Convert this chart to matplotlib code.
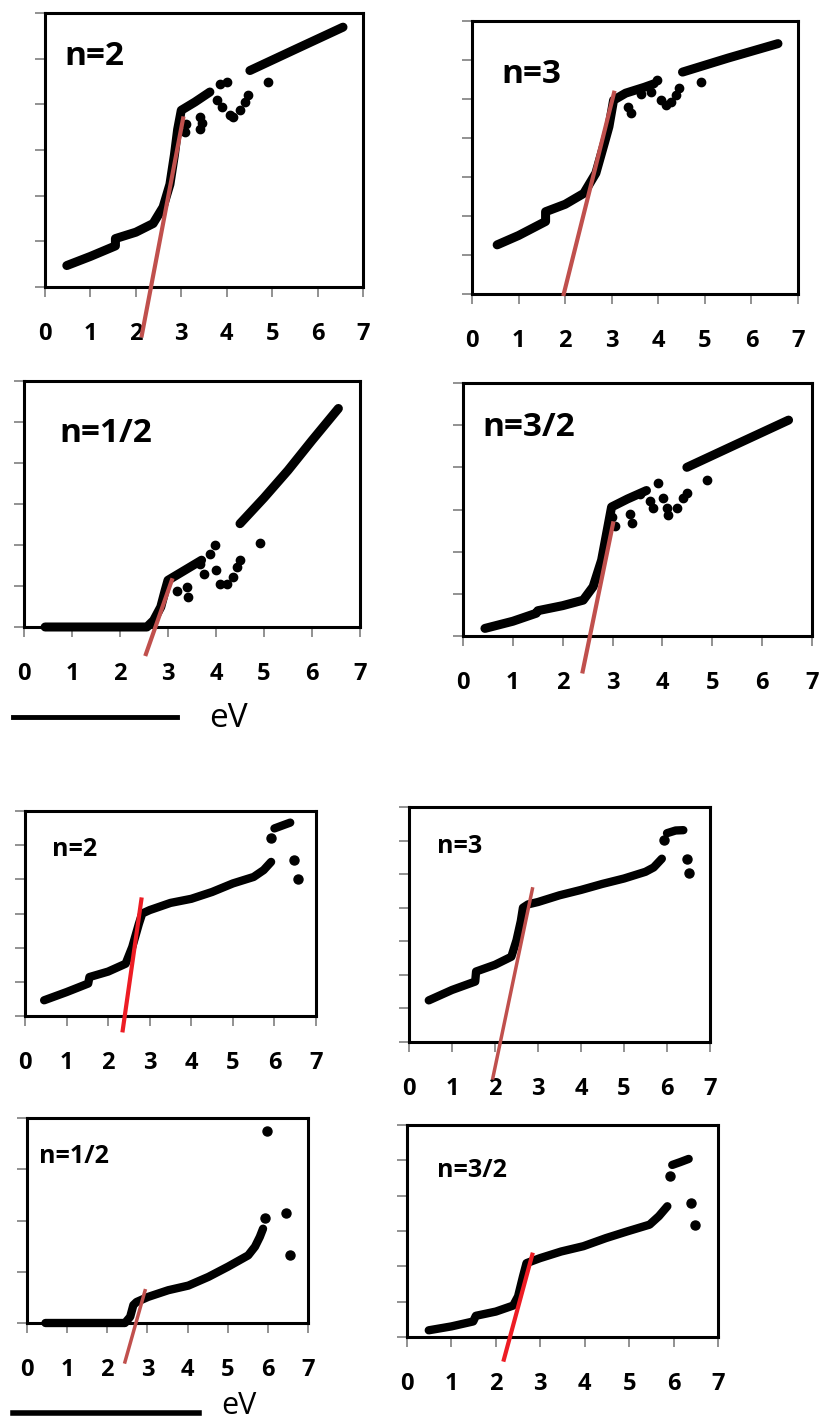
import matplotlib.pyplot as plt
from matplotlib.lines import Line2D

plt.rcParams['font.family'] = ['Open Sans', 'DejaVu Sans']

W, H = 830, 1425          # output size in pixels
xticks = [0, 1, 2, 3, 4, 5, 6, 7]
brown = '#C0504D'
red = '#ED1C24'

# ---- top set ---------------------------------------------------------------
# n=2
a2_x = [0.48, 1.0, 1.55, 1.55, 2.0, 2.38, 2.6, 2.75, 2.85, 2.92, 3.0, 3.3, 3.63]
a2_y = [0.47, 0.67, 0.9, 1.06, 1.2, 1.39, 1.75, 2.25, 2.9, 3.45, 3.87, 4.05, 4.27]
a2_up_x = [4.51, 5.5, 6.56]
a2_up_y = [4.74, 5.2, 5.69]
a2_dot_x = [3.08, 3.1, 3.41, 3.41, 3.45, 3.78, 3.85, 3.89, 4.0, 4.07, 4.14, 4.29, 4.4, 4.47, 4.91]
a2_dot_y = [3.4, 3.58, 3.47, 3.72, 3.6, 4.09, 4.45, 3.94, 4.49, 3.76, 3.72, 3.87, 4.05, 4.2, 4.49]
a2_fit_x = [2.13, 3.04]
a2_fit_y = [-1.06, 3.69]

# n=3
a3_x = [0.54, 1.0, 1.58, 1.58, 2.0, 2.4, 2.66, 2.84, 2.94, 3.04, 3.3, 3.7, 3.91]
a3_y = [1.26, 1.5, 1.86, 2.11, 2.3, 2.58, 3.1, 3.86, 4.29, 4.97, 5.15, 5.3, 5.39]
a3_up_x = [4.52, 5.5, 6.57]
a3_up_y = [5.69, 6.05, 6.42]
a3_dot_x = [3.34, 3.41, 3.63, 3.84, 3.98, 4.06, 4.16, 4.27, 4.38, 4.45, 4.92]
a3_dot_y = [4.8, 4.63, 5.14, 5.18, 5.48, 4.97, 4.84, 4.93, 5.1, 5.27, 5.44]
a3_fit_x = [1.97, 3.05]
a3_fit_y = [0.0, 5.16]

# n=1/2
a12_x = [0.44, 1.5, 2.56, 2.7, 2.85, 2.94, 3.0, 3.3, 3.7]
a12_y = [0.0, 0.0, 0.0, 0.16, 0.49, 0.89, 1.14, 1.35, 1.63]
a12_up_x = [4.5, 5.0, 5.5, 6.0, 6.55]
a12_up_y = [2.52, 3.15, 3.82, 4.55, 5.33]
a12_dot_x = [3.18, 3.39, 3.42, 3.67, 3.74, 3.88, 3.98, 4.01, 4.08, 4.22, 4.36, 4.43, 4.5, 4.92]
a12_dot_y = [0.89, 0.98, 0.73, 1.54, 1.3, 1.79, 1.99, 1.38, 1.06, 1.06, 1.22, 1.46, 1.63, 2.05]
a12_fit_x = [2.54, 3.08]
a12_fit_y = [-0.66, 1.14]

# n=3/2
a32_x = [0.44, 1.0, 1.47, 1.5, 2.0, 2.41, 2.61, 2.78, 2.88, 2.98, 3.3, 3.68]
a32_y = [0.18, 0.35, 0.54, 0.6, 0.72, 0.85, 1.17, 1.8, 2.43, 3.06, 3.25, 3.45]
a32_up_x = [4.49, 5.49, 6.53]
a32_up_y = [4.0, 4.55, 5.12]
a32_dot_x = [2.98, 3.05, 3.35, 3.38, 3.55, 3.75, 3.82, 3.92, 4.02, 4.09, 4.12, 4.29, 4.42, 4.49, 4.89]
a32_dot_y = [2.83, 2.6, 2.9, 2.67, 3.36, 3.2, 3.04, 3.63, 3.28, 3.04, 2.88, 3.04, 3.28, 3.39, 3.69]
a32_fit_x = [2.4, 3.01]
a32_fit_y = [-0.84, 2.67]

# ---- bottom set ------------------------------------------------------------
# n=2
b2_x = [0.46, 1.0, 1.52, 1.55, 2.0, 2.42, 2.58, 2.74, 2.82, 3.0, 3.5, 4.0, 4.5, 5.0, 5.5, 5.74, 5.92]
b2_y = [0.46, 0.7, 0.95, 1.14, 1.3, 1.53, 2.02, 2.7, 3.0, 3.1, 3.31, 3.43, 3.63, 3.88, 4.07, 4.27, 4.51]
b2_up_x = [6.0, 6.2, 6.38]
b2_up_y = [5.49, 5.58, 5.66]
b2_dot_x = [5.92, 6.46, 6.56]
b2_dot_y = [5.22, 4.56, 4.02]
b2_fit_x = [2.35, 2.8]
b2_fit_y = [-0.42, 3.41]

# n=3
b3_x = [0.46, 1.0, 1.54, 1.56, 2.0, 2.38, 2.5, 2.6, 2.65, 2.77, 3.0, 3.5, 4.0, 4.5, 5.0, 5.5, 5.69, 5.88]
b3_y = [1.24, 1.55, 1.8, 2.1, 2.3, 2.54, 3.03, 3.6, 4.0, 4.1, 4.17, 4.37, 4.53, 4.71, 4.87, 5.07, 5.2, 5.46]
b3_up_x = [6.0, 6.2, 6.38]
b3_up_y = [6.22, 6.3, 6.31]
b3_dot_x = [5.92, 6.46, 6.5]
b3_dot_y = [6.01, 5.45, 5.03]
b3_fit_x = [1.95, 2.87]
b3_fit_y = [-1.07, 4.56]

# n=1/2
b12_x = [0.46, 1.5, 2.44, 2.57, 2.65, 2.73, 3.02, 3.52, 4.02, 4.52, 5.01, 5.51, 5.68, 5.8, 5.88]
b12_y = [0.0, 0.0, 0.0, 0.12, 0.35, 0.41, 0.51, 0.64, 0.73, 0.9, 1.1, 1.32, 1.49, 1.68, 1.84]
b12_dot_x = [5.92, 5.97, 6.44, 6.55]
b12_dot_y = [2.05, 3.74, 2.15, 1.32]
b12_fit_x = [2.44, 2.94]
b12_fit_y = [-0.76, 0.63]

# n=3/2
b32_x = [0.49, 1.0, 1.49, 1.55, 2.0, 2.39, 2.5, 2.61, 2.69, 2.99, 3.47, 3.97, 4.48, 4.96, 5.46, 5.67, 5.86]
b32_y = [0.19, 0.3, 0.44, 0.6, 0.72, 0.89, 1.15, 1.71, 2.09, 2.23, 2.42, 2.57, 2.8, 2.99, 3.18, 3.42, 3.7]
b32_up_x = [5.97, 6.15, 6.34]
b32_up_y = [4.87, 4.95, 5.04]
b32_dot_x = [5.93, 6.4, 6.49]
b32_dot_y = [4.55, 3.79, 3.18]
b32_fit_x = [2.18, 2.82]
b32_fit_y = [-0.64, 2.33]


def px_box(left, top, right, bottom):
    return [left / W, 1 - bottom / H, (right - left) / W, (bottom - top) / H]


def panel(fig, box, ymax, band, upper, dots, fit, fit_color,
          label, label_xy, label_size, band_lw=6.5, ms=6, fit_lw=3):
    ax = fig.add_axes(px_box(*box))
    kargs = dict(color='k', solid_capstyle='round', solid_joinstyle='round',
                 clip_on=False, zorder=2)
    ax.plot(band[0], band[1], lw=band_lw, **kargs)
    if upper is not None:
        ax.plot(upper[0], upper[1], lw=band_lw, **kargs)
    ax.plot(dots[0], dots[1], 'o', ms=ms, color='k', clip_on=False, zorder=2)
    ax.plot(fit[0], fit[1], color=fit_color, lw=fit_lw, clip_on=False,
            zorder=3)

    ax.set_xlim(0, 7)
    ax.set_ylim(0, ymax)
    ax.set_xticks(xticks)
    ax.set_yticks(range(ymax + 1))
    ax.set_yticklabels([])
    ax.tick_params(axis='both', direction='out', length=7, width=1.2,
                   color='#7f7f7f')
    ax.tick_params(axis='x', pad=18, labelsize=17)
    for t in ax.get_xticklabels():
        t.set_fontweight('bold')
    for s in ax.spines.values():
        s.set_linewidth(2.2)
        s.set_color('k')

    fig.text(label_xy[0] / W, 1 - label_xy[1] / H, label,
             fontsize=label_size, fontweight='bold', va='baseline')
    return ax


fig = plt.figure(figsize=(W / 100, H / 100), dpi=100)

# top set
panel(fig, (45, 13, 363, 287), 6, (a2_x, a2_y), (a2_up_x, a2_up_y),
      (a2_dot_x, a2_dot_y), (a2_fit_x, a2_fit_y), brown, 'n=2', (64, 65), 24)
panel(fig, (472, 21, 798, 294), 7, (a3_x, a3_y), (a3_up_x, a3_up_y),
      (a3_dot_x, a3_dot_y), (a3_fit_x, a3_fit_y), brown, 'n=3', (501, 83), 24)
panel(fig, (24, 381, 360, 627), 6, (a12_x, a12_y), (a12_up_x, a12_up_y),
      (a12_dot_x, a12_dot_y), (a12_fit_x, a12_fit_y), brown, 'n=1/2',
      (59, 442), 24)
panel(fig, (463, 383, 812, 636), 6, (a32_x, a32_y), (a32_up_x, a32_up_y),
      (a32_dot_x, a32_dot_y), (a32_fit_x, a32_fit_y), brown, 'n=3/2',
      (482, 436), 24)

# bottom set
panel(fig, (25, 811, 316, 1016), 6, (b2_x, b2_y), (b2_up_x, b2_up_y),
      (b2_dot_x, b2_dot_y), (b2_fit_x, b2_fit_y), red, 'n=2', (52, 856), 18,
      band_lw=6, ms=6.5, fit_lw=3)
panel(fig, (409, 807, 710, 1042), 7, (b3_x, b3_y), (b3_up_x, b3_up_y),
      (b3_dot_x, b3_dot_y), (b3_fit_x, b3_fit_y), brown, 'n=3', (437, 853), 18,
      band_lw=6, ms=6.5, fit_lw=2.5)
panel(fig, (27, 1118, 308, 1323), 4, (b12_x, b12_y), None,
      (b12_dot_x, b12_dot_y), (b12_fit_x, b12_fit_y), brown, 'n=1/2',
      (39, 1163), 18, band_lw=6, ms=6.5, fit_lw=2.5)
panel(fig, (407, 1125, 718, 1337), 6, (b32_x, b32_y), (b32_up_x, b32_up_y),
      (b32_dot_x, b32_dot_y), (b32_fit_x, b32_fit_y), red, 'n=3/2',
      (437, 1177), 18, band_lw=6, ms=6.5, fit_lw=3)

# energy axis markers
for (x0, x1, y, lw, tx, ty, fs) in [(13, 177, 717, 3.5, 209, 727, 24),
                                     (13, 199, 1413, 4.0, 221, 1414, 22)]:
    fig.add_artist(Line2D([x0 / W, x1 / W], [1 - y / H, 1 - y / H],
                          color='k', lw=lw))
    fig.text(tx / W, 1 - ty / H, 'eV', fontsize=fs, va='baseline')

fig.savefig('out.png', dpi=100)
